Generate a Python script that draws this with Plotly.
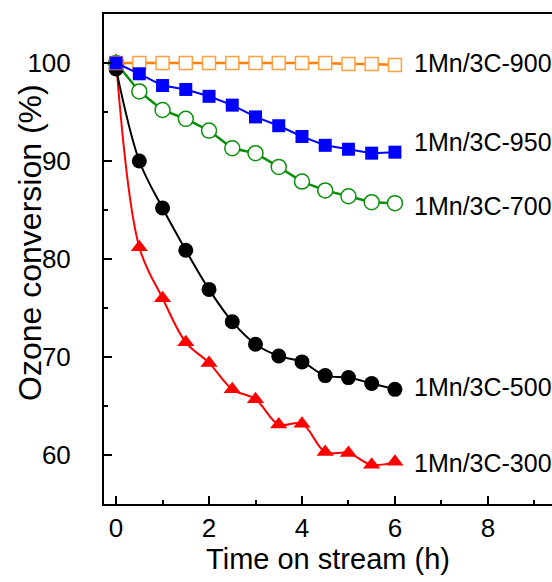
import plotly.graph_objects as go

time_h = [0, 0.5, 1, 1.5, 2, 2.5, 3, 3.5, 4, 4.5, 5, 5.5, 6]
s300 = [100.2, 81.2, 76.0, 71.5, 69.4, 66.7, 65.7, 63.1, 63.2, 60.3, 60.2, 59.0, 59.3]
s500 = [99.4, 90.0, 85.2, 80.9, 76.9, 73.6, 71.3, 70.1, 69.5, 68.1, 67.9, 67.3, 66.7]
s700 = [100.0, 97.1, 95.2, 94.3, 93.1, 91.3, 90.8, 89.4, 87.9, 87.0, 86.4, 85.8, 85.7]
s900 = [100.0, 100.0, 100.0, 100.0, 100.0, 100.0, 100.0, 100.0, 100.0, 100.0, 99.9, 99.9, 99.8]
s950 = [100.0, 98.9, 97.7, 97.3, 96.6, 95.7, 94.5, 93.6, 92.5, 91.6, 91.2, 90.8, 90.9]
labels = ["1Mn/3C-900", "1Mn/3C-950", "1Mn/3C-700", "1Mn/3C-500", "1Mn/3C-300"]
label_y = [100.0, 91.9, 85.4, 66.9, 59.2]

FONT = "Liberation Sans, Arial, sans-serif"
fig = go.Figure()

fig.add_trace(go.Scatter(x=time_h, y=s300, mode="lines+markers",
                         line=dict(color="#ff0000", width=2, shape="spline"),
                         marker=dict(symbol="triangle-up", size=15, color="#ff0000")))
fig.add_trace(go.Scatter(x=time_h, y=s700, mode="lines+markers",
                         line=dict(color="#0a8f0a", width=2.5),
                         marker=dict(symbol="circle", size=15, color="white",
                                     line=dict(color="#0a8f0a", width=1.5))))
fig.add_trace(go.Scatter(x=time_h, y=s500, mode="lines+markers",
                         line=dict(color="#000000", width=2, shape="spline"),
                         marker=dict(symbol="circle", size=15, color="#000000")))
fig.add_trace(go.Scatter(x=time_h, y=s900, mode="lines+markers",
                         line=dict(color="#ff8000", width=2.5),
                         marker=dict(symbol="square", size=13, color="white",
                                     line=dict(color="#ffa040", width=1.5))))
fig.add_trace(go.Scatter(x=time_h, y=s950, mode="lines+markers",
                         line=dict(color="#0000ff", width=2),
                         marker=dict(symbol="square", size=13, color="#0000ff")))

for t, yv in zip(labels, label_y):
    fig.add_annotation(x=6.37, y=yv, text=t, showarrow=False, xanchor="left",
                       yanchor="middle", font=dict(family=FONT, size=25, color="black"))

# y-axis title placed as rotated text
fig.add_annotation(xref="paper", yref="paper", x=-0.165, y=0.533,
                   text="Ozone conversion (%)", textangle=-90, showarrow=False,
                   xanchor="center", yanchor="middle",
                   font=dict(family=FONT, size=32, color="black"))

fig.update_layout(
    template="none",
    width=552, height=582,
    margin=dict(l=104, r=0, t=14, b=78, autoexpand=False),
    plot_bgcolor="white", paper_bgcolor="white",
    showlegend=False,
    font=dict(family=FONT, color="black"),
)
fig.update_xaxes(range=[-0.26, 9.38], showgrid=False, zeroline=False, automargin=False,
                 showline=True, linecolor="black", linewidth=2, mirror=True,
                 ticks="inside", ticklen=8, tickwidth=2, tickcolor="black",
                 ticklabelstandoff=0,
                 tickvals=[0, 2, 4, 6, 8], tickfont=dict(family=FONT, size=26),
                 minor=dict(tickvals=[1, 3, 5, 7, 9], ticks="inside", ticklen=4,
                            tickwidth=2, tickcolor="black"),
                 title=dict(text="Time on stream (h)", font=dict(family=FONT, size=29),
                            standoff=2))
fig.update_yaxes(range=[55, 105], showgrid=False, zeroline=False, automargin=False,
                 showline=True, linecolor="black", linewidth=2,
                 ticks="inside", ticklen=8, tickwidth=2, tickcolor="black",
                 ticklabelstandoff=26,
                 tickvals=[60, 70, 80, 90, 100], tickfont=dict(family=FONT, size=26),
                 minor=dict(tickvals=[65, 75, 85, 95], ticks="inside", ticklen=4,
                            tickwidth=2, tickcolor="black"))

fig.write_html("out.html", config={"displayModeBar": False},
               post_script="document.body.style.margin='0px';")
